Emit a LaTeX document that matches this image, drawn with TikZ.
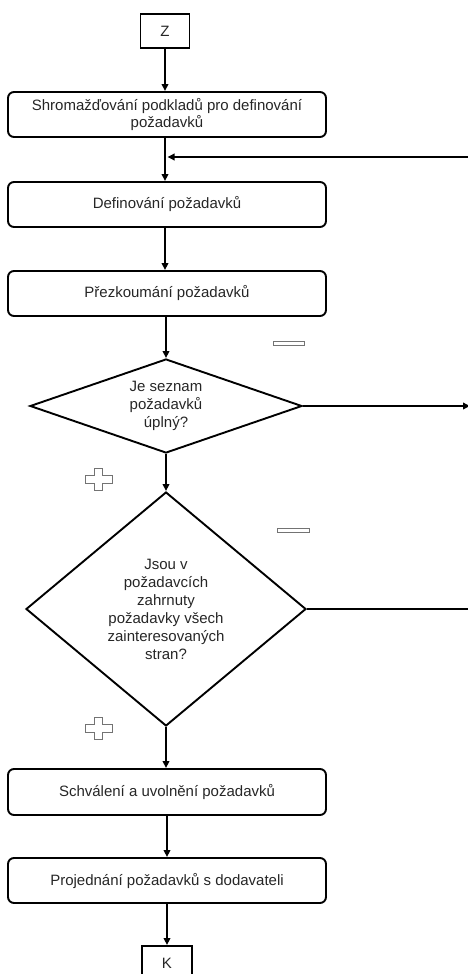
\documentclass[tikz,border=0pt]{standalone}
\usepackage{fontspec}
\setmainfont{Liberation Sans}
\usetikzlibrary{shapes.geometric,arrows.meta}
\tikzset{
  txt/.style={text=black!85, font=\fontsize{15}{16.5}\selectfont},
  procbox/.style={txt, draw, line width=1.9pt, rounded corners=6pt, minimum width=318pt, minimum height=45pt, inner sep=0pt, align=center},
  termbox/.style={txt, draw, line width=1.9pt, minimum width=49pt, minimum height=34pt, inner sep=0pt},
  decision/.style={txt, draw, diamond, line width=1.9pt, inner sep=0pt, align=center, font=\fontsize{15}{18}\selectfont},
  flow/.style={line width=1.9pt, -{Triangle[length=7pt,width=6.5pt]}},
  plainline/.style={line width=1.9pt},
  signout/.style={draw=black!55, fill=white, line width=0.8pt},
  plussign/.pic={\path[signout] (-4,-11) -- (4,-11) -- (4,-4) -- (13.5,-4) -- (13.5,4) -- (4,4) -- (4,11) -- (-4,11) -- (-4,4) -- (-13.5,4) -- (-13.5,-4) -- (-4,-4) -- cycle;},
}
\begin{document}
\begin{tikzpicture}[x=1pt,y=-1pt]
\useasboundingbox (0,0) rectangle (467,974);
\node[termbox] (z) at (165,31) {Z};
\node[procbox] (b1) at (167,114.5) {Shromažďování podkladů pro definování\\požadavků};
\node[procbox] (b2) at (167,204.5) {Definování požadavků};
\node[procbox] (b3) at (167,293.5) {Přezkoumání požadavků};
\node[decision, aspect=2.9, minimum width=272pt, minimum height=94pt] (d1) at (166,406) {Je seznam\\požadavků\\úplný?};
\node[decision, aspect=1.2, minimum width=280pt, minimum height=234pt] (d2) at (166,609) {Jsou v\\požadavcích\\zahrnuty\\požadavky všech\\zainteresovaných\\stran?};
\node[procbox, minimum height=46pt] (b4) at (167,792) {Schválení a uvolnění požadavků};
\node[procbox] (b5) at (167,880.5) {Projednání požadavků s dodavateli};
\node[termbox, minimum width=50pt] (k) at (167,963) {K};

\coordinate (fbR) at (470,157);
\coordinate (fbL) at (167.5,157);
\coordinate (e1) at (470,406);
\coordinate (e2) at (470,609);

\draw[flow] (z) -- (z|-b1.north);
\draw[flow] (b1.south-|z) -- (b2.north-|z);
\draw[flow] (fbR) -- (fbL);
\draw[flow] (b2.south-|z) -- (b3.north-|z);
\draw[flow] (b3.south-|d1) -- (d1.north);
\draw[flow] (d1.south) -- (d2.north);
\draw[flow] (d2.south) -- (d2.south|-b4.north);
\draw[flow] (b4.south-|k) -- (b5.north-|k);
\draw[flow] (b5.south-|k) -- (k.north);
\draw[flow] (d1.east) -- (e1);
\draw[plainline] (d2.east) -- (e2);

\path[signout] (273,341) rectangle (304,345);
\path[signout] (277,528) rectangle (309,532);
\pic at (98.5,479) {plussign};
\pic at (98.5,728.5) {plussign};
\end{tikzpicture}
\end{document}
